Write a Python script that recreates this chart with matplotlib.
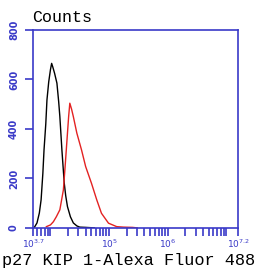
# flow cytometry histogram: p27 KIP 1 - Alexa Fluor 488
import numpy as np
import matplotlib
matplotlib.use("Agg")
import matplotlib.pyplot as plt
from matplotlib.ticker import FixedLocator, LogLocator, NullFormatter

# ---- data (log10 fluorescence, counts) ----
ctrl_log = [3.72, 3.77, 3.81, 3.84, 3.87, 3.89, 3.92, 3.94, 3.97, 4.00, 4.02,
            4.04, 4.07, 4.11, 4.14, 4.16, 4.195, 4.235, 4.26, 4.29, 4.34,
            4.39, 4.45, 4.50, 4.60, 4.75]
ctrl_counts = [0, 20, 60, 113, 220, 315, 420, 517, 590, 640, 665,
               650, 625, 585, 510, 450, 315, 181, 130, 86, 45,
               20, 8, 3, 2, 0]

sample_log = [3.93, 4.00, 4.05, 4.10, 4.16, 4.22, 4.25, 4.29, 4.31, 4.33,
              4.36, 4.39, 4.45, 4.53, 4.60, 4.70, 4.79, 4.87, 4.99, 5.13,
              5.25, 5.40, 5.48]
sample_counts = [5, 12, 25, 45, 73, 153, 248, 383, 450, 504,
                 480, 450, 383, 315, 248, 180, 113, 59, 19, 5,
                 3, 2, 0]

x_ticks_log = [3.7, 5, 6, 7.2]
x_tick_labels = [r'$10^{3.7}$', r'$10^{5}$', r'$10^{6}$', r'$10^{7.2}$']
y_ticks = [0, 200, 400, 600, 800]

blue = '#3a3ac8'

fig = plt.figure(figsize=(2.61, 2.70), dpi=100)
ax = fig.add_axes([0.126, 0.156, 0.786, 0.733])

ax.plot(10 ** np.array(ctrl_log), ctrl_counts, color='black', lw=1.0)
ax.plot(10 ** np.array(sample_log), sample_counts, color='#e32222', lw=1.0)

ax.set_xscale('log')
ax.set_xlim(10 ** 3.7, 10 ** 7.2)
ax.set_ylim(0, 800)

for s in ax.spines.values():
    s.set_color(blue)
    s.set_linewidth(1.2)

ax.xaxis.set_major_locator(FixedLocator([10 ** v for v in x_ticks_log]))
ax.set_xticklabels(x_tick_labels)
ax.xaxis.set_minor_locator(LogLocator(base=10, subs=np.arange(1, 10), numticks=20))
ax.xaxis.set_minor_formatter(NullFormatter())
ax.tick_params(axis='x', which='both', direction='out', length=6, width=1.2,
               color=blue, labelcolor=blue, labelsize=6.5, pad=1)

ax.set_yticks(y_ticks)
ax.tick_params(axis='y', direction='out', length=6, width=1.2,
               color=blue, labelcolor=blue, labelsize=7, pad=4)
for lab in ax.get_yticklabels():
    lab.set_rotation(90)
    lab.set_va('center')
    lab.set_fontweight('bold')

fig.text(0.122, 0.935, 'Counts', family='Liberation Mono', fontsize=12,
         ha='left', va='center')
fig.text(0.494, 0.035, 'p27 KIP 1-Alexa Fluor 488', family='Liberation Mono',
         fontsize=12.2, ha='center', va='center')

fig.savefig('out.png', dpi=100)
